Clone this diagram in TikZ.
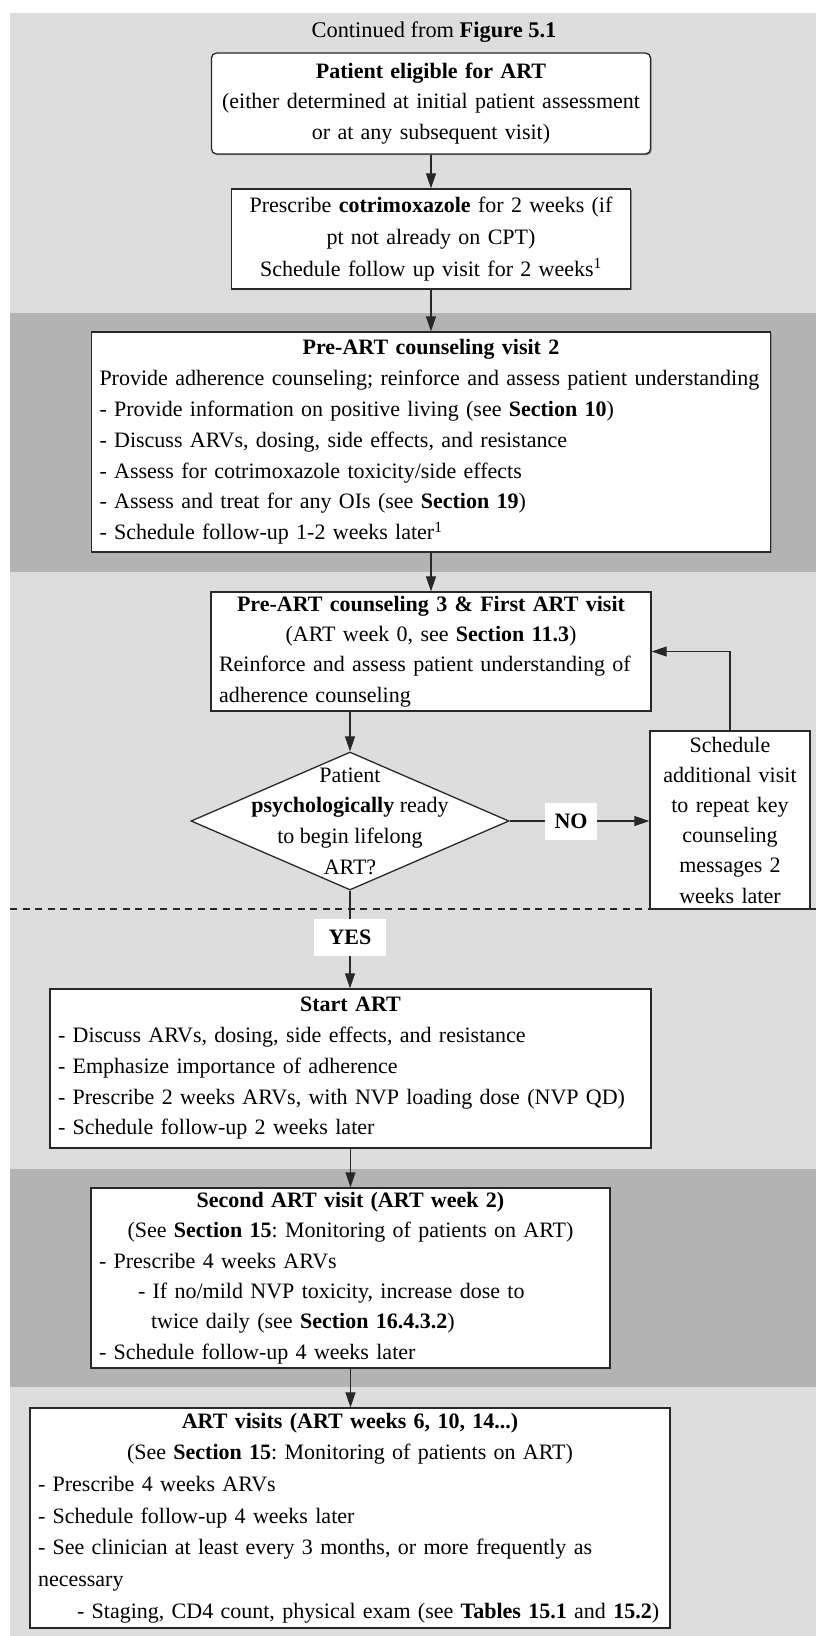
\documentclass[tikz,border=0pt]{standalone}
\usepackage{fontspec}
\setmainfont{Liberation Serif}
\usetikzlibrary{shapes.geometric,arrows.meta,shadows}
\frenchspacing

\definecolor{bandlight}{RGB}{221,221,221}
\definecolor{banddark}{RGB}{179,179,179}
\definecolor{inkline}{RGB}{40,40,40}

\tikzset{
  txt/.style={font=\fontsize{22}{#1}\selectfont},
  box/.style={draw=inkline, line width=1.3pt, fill=white,
    inner xsep=8pt, inner ysep=0pt,
    general shadow={fill=black!45, shadow xshift=1.2pt, shadow yshift=-1.2pt}},
  decision/.style={draw=inkline, line width=1.3pt, fill=white, shape=diamond,
    inner sep=0pt},
  answer/.style={fill=white, inner sep=0pt, font=\fontsize{22}{27}\selectfont\bfseries},
  flow/.style={draw=inkline, line width=1.1pt, -{Triangle[length=15pt,width=10pt]}},
  divider/.style={draw=inkline, line width=1.2pt, dash pattern=on 7pt off 5.5pt},
}

\begin{document}
\begin{tikzpicture}[x=1pt, y=-1pt]
\useasboundingbox (0,0) rectangle (816,1636);
\fill[white] (0,0) rectangle (816,1636);

% shaded bands behind the flow
\fill[bandlight] (10,13)   rectangle (816,313);
\fill[banddark]  (10,313)  rectangle (816,572);
\fill[bandlight] (10,572)  rectangle (816,1169);
\fill[banddark]  (10,1169) rectangle (816,1387);
\fill[bandlight] (10,1387) rectangle (816,1636);

\node[inner sep=0pt, font=\fontsize{22.4}{27}\selectfont] (cont) at (434,32) {Continued from \textbf{Figure 5.1}};

\node[box, rounded corners=5pt, txt=30.5, align=center,
      minimum width=439pt, minimum height=101pt, text width=423pt] (elig) at (431,103.5)
  {\textbf{Patient eligible for ART}\\\mbox{(either determined at initial patient assessment}\\or at any subsequent visit)};

\node[box, txt=32, align=center,
      minimum width=399pt, minimum height=100pt, text width=383pt] (cotri) at (431,239)
  {Prescribe \textbf{cotrimoxazole} for 2 weeks (if\\pt not already on CPT)\\Schedule follow up visit for 2 weeks\textsuperscript{1}};

\node[box, txt=30.8,
      minimum width=679pt, minimum height=220pt, text width=663pt] (v2) at (431,442)
  {\centering\textbf{Pre-ART counseling visit 2}\par
   \raggedright
   \mbox{Provide adherence counseling; reinforce and assess patient understanding}\\
   - Provide information on positive living (see \textbf{Section 10})\\
   - Discuss ARVs, dosing, side effects, and resistance\\
   - Assess for cotrimoxazole toxicity/side effects\\
   - Assess and treat for any OIs (see \textbf{Section 19})\\
   - Schedule follow-up 1-2 weeks later\textsuperscript{1}};

\node[box, txt=30.3,
      minimum width=440pt, minimum height=119pt, text width=424pt] (v3) at (431,651.5)
  {\centering\textbf{Pre-ART counseling 3 \& First ART visit}\\
   (ART week 0, see \textbf{Section 11.3})\par
   \raggedright
   \mbox{Reinforce and assess patient understanding of}\\
   adherence counseling};

\draw[divider] (10,909) coordinate (divl) -- (650,909) coordinate (divm);
\draw[draw=inkline, line width=1.2pt] (divm) -- (816,909) coordinate (divr);

\node[decision, minimum width=318pt, minimum height=138pt,
      label={[txt=30.7, align=center, inner sep=0pt]center:{Patient\\\textbf{psychologically} ready\\to begin lifelong\\ART?}}]
  (ready) at (350,821) {};

\node[box, txt=30.2, align=center,
      minimum width=160pt, minimum height=178pt, text width=144pt] (side) at (730,820)
  {Schedule\\additional visit\\to repeat key\\counseling\\messages 2\\weeks later};

\node[box, txt=30.75,
      minimum width=601pt, minimum height=159pt, text width=585pt] (start) at (350.5,1068.5)
  {\centering\textbf{Start ART}\par
   \raggedright
   - Discuss ARVs, dosing, side effects, and resistance\\
   - Emphasize importance of adherence\\
   \mbox{- Prescribe 2 weeks ARVs, with NVP loading dose (NVP QD)}\\
   - Schedule follow-up 2 weeks later};

\node[box, txt=30.4,
      minimum width=519pt, minimum height=180pt, text width=503pt] (wk2) at (350.5,1278)
  {\centering\textbf{Second ART visit (ART week 2)}\\
   (See \textbf{Section 15}: Monitoring of patients on ART)\par
   \raggedright
   - Prescribe 4 weeks ARVs\\
   \hspace*{39pt}- If no/mild NVP toxicity, increase dose to\\
   \hspace*{52pt}twice daily (see \textbf{Section 16.4.3.2})\\
   - Schedule follow-up 4 weeks later};

\node[box, txt=31.7,
      minimum width=640pt, minimum height=220pt, text width=624pt] (visits) at (350,1518)
  {\centering\textbf{ART visits (ART weeks 6, 10, 14...)}\\
   (See \textbf{Section 15}: Monitoring of patients on ART)\par
   \raggedright
   - Prescribe 4 weeks ARVs\\
   - Schedule follow-up 4 weeks later\\
   \mbox{- See clinician at least every 3 months, or more frequently as}\\
   necessary\\
   \hspace*{39pt}\mbox{- Staging, CD4 count, physical exam (see \textbf{Tables 15.1} and \textbf{15.2})}};

% connectors
\draw[flow] (elig) -- (cotri);
\draw[flow] (cotri) -- (v2);
\draw[flow] (v2) -- (v3);
\draw[flow] (v3.south -| ready.north) -- (ready.north);
\draw[flow] (ready.east) -- (ready.east -| side.west);
\draw[flow] (side.north) |- (v3.east);
\draw[flow] (ready.south) -- (ready.south |- start.north);
\draw[flow] (start.south) -- (start.south |- wk2.north);
\draw[flow] (wk2.south) -- (wk2.south |- visits.north);

% answer tags sitting on the decision lines
\node[answer, minimum width=52pt, minimum height=37pt] (no) at (571,821.5) {NO};
\node[answer, minimum width=72pt, minimum height=37pt] (yes) at (350,937.5) {YES};
\end{tikzpicture}
\end{document}
